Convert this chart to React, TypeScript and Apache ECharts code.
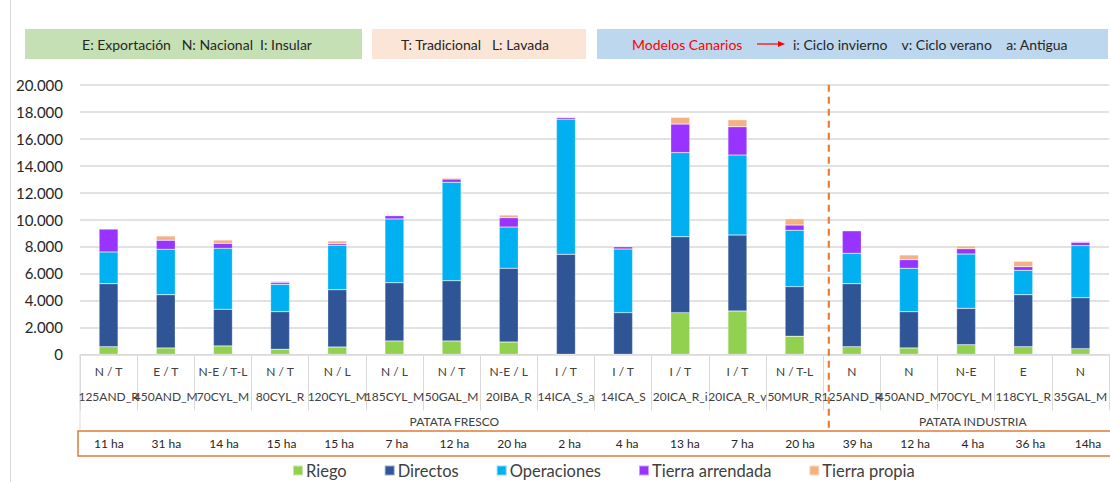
import React, { useEffect, useRef } from "react";
import * as echarts from "echarts";

// ---- data ----
const categories = ["125AND_R", "450AND_M", "70CYL_M", "80CYL_R", "120CYL_M", "185CYL_M", "50GAL_M", "20IBA_R", "14ICA_S_a", "14ICA_S", "20ICA_R_i", "20ICA_R_v", "50MUR_R", "125AND_R", "450AND_M", "70CYL_M", "118CYL_R", "35GAL_M"];
const markets = ["N / T", "E / T", "N-E / T-L", "N / T", "N / L", "N / L", "N / T", "N-E / L", "I / T", "I / T", "I / T", "I / T", "N / T-L", "N", "N", "N-E", "E", "N"];
const hectares = ["11 ha", "31 ha", "14 ha", "15 ha", "15 ha", "7 ha", "12 ha", "20 ha", "2 ha", "4 ha", "13 ha", "7 ha", "20 ha", "39 ha", "12 ha", "4 ha", "36 ha", "14ha"];
const groupNames = ["PATATA FRESCO", "PATATA INDUSTRIA"];
const groupCounts = [13, 5];

const riego = [560, 470, 620, 370, 540, 990, 990, 910, 0, 0, 3090, 3210, 1340, 560, 470, 710, 560, 420];
const directos = [4680, 3950, 2720, 2790, 4250, 4320, 4470, 5470, 7420, 3090, 5630, 5640, 3680, 4680, 2690, 2700, 3860, 3780];
const operaciones = [2350, 3370, 4520, 2030, 3300, 4730, 7300, 3060, 10010, 4720, 6240, 5930, 4180, 2250, 3220, 4030, 1810, 3860];
const arrendada = [1710, 670, 370, 150, 120, 240, 240, 690, 120, 170, 2120, 2100, 390, 1680, 640, 390, 270, 250];
const propia = [0, 320, 250, 80, 200, 50, 80, 200, 80, 50, 500, 520, 470, 0, 350, 200, 400, 70];

const seriesNames = ["Riego", "Directos", "Operaciones", "Tierra arrendada", "Tierra propia"];
const seriesData = [riego, directos, operaciones, arrendada, propia];
const seriesColors = ["#92D050", "#2F5597", "#00B0F0", "#9933FF", "#F4B183"];

const yTicks = { min: 0, max: 20000, interval: 2000 };

// ---- layout ----
const W = 1110;
const H = 482;
const GRID_LEFT = 80;
const GRID_TOP = 84.7;
const CAT_W = 57.6;
const GRID_W = CAT_W * categories.length;
const GRID_H = 269.6;
const AXIS_Y = GRID_TOP + GRID_H;
const FONT = "Lato, 'Noto Sans', sans-serif";
const TEXT_COLOR = "#404040";

export default function App() {
  const ref = useRef<HTMLDivElement>(null);

  useEffect(() => {
    if (!ref.current) return;
    const chart = echarts.init(ref.current, null, { renderer: "svg" });

    const graphics: any[] = [];
    // left frame line
    graphics.push({ type: "line", shape: { x1: 10.5, y1: 0, x2: 10.5, y2: H }, style: { stroke: "#D9D9D9", lineWidth: 1 } });

    // top legend boxes
    const boxY = 29;
    const boxH = 30;
    const midY = boxY + boxH / 2;
    graphics.push({ type: "rect", shape: { x: 25, y: boxY, width: 337, height: boxH }, style: { fill: "#C5E0B4" } });
    graphics.push({ type: "text", x: 197, y: midY, style: { text: "E: Exportación   N: Nacional  I: Insular", textAlign: "center", textVerticalAlign: "middle", fill: "#262626", font: `14px ${FONT}` } });
    graphics.push({ type: "rect", shape: { x: 372, y: boxY, width: 214, height: boxH }, style: { fill: "#FBE5D6" } });
    graphics.push({ type: "text", x: 475, y: midY, style: { text: "T: Tradicional   L: Lavada", textAlign: "center", textVerticalAlign: "middle", fill: "#262626", font: `14px ${FONT}` } });
    graphics.push({ type: "rect", shape: { x: 597, y: boxY, width: 511, height: boxH }, style: { fill: "#BDD7EE" } });
    graphics.push({ type: "text", x: 632, y: midY, style: { text: "Modelos Canarios", textAlign: "left", textVerticalAlign: "middle", fill: "#FF0000", font: `14px ${FONT}` } });
    graphics.push({ type: "line", shape: { x1: 757, y1: midY, x2: 779, y2: midY }, style: { stroke: "#FF0000", lineWidth: 1.2 } });
    graphics.push({ type: "polygon", shape: { points: [[778, midY - 3], [785, midY], [778, midY + 3]] }, style: { fill: "#FF0000" } });
    graphics.push({ type: "text", x: 793, y: midY, style: { text: "i: Ciclo invierno    v: Ciclo verano    a: Antigua", textAlign: "left", textVerticalAlign: "middle", fill: "#262626", font: `14px ${FONT}` } });

    // group labels and separators
    let start = 0;
    groupNames.forEach((g, gi) => {
      const cnt = groupCounts[gi];
      const cx = GRID_LEFT + (start + cnt / 2) * CAT_W;
      graphics.push({ type: "text", x: cx, y: 421, style: { text: g, textAlign: "center", textVerticalAlign: "middle", fill: TEXT_COLOR, font: `12px ${FONT}` } });
      start += cnt;
    });
    graphics.push({ type: "line", shape: { x1: GRID_LEFT, y1: AXIS_Y, x2: GRID_LEFT, y2: 431 }, style: { stroke: "#D9D9D9", lineWidth: 1 } });
    const dashX = GRID_LEFT + groupCounts[0] * CAT_W;
    graphics.push({ type: "line", z: 100, shape: { x1: dashX, y1: GRID_TOP, x2: dashX, y2: 431 }, style: { stroke: "#ED7D31", lineWidth: 2.2, lineDash: [7, 5] } });

    // hectare row
    graphics.push({ type: "rect", shape: { x: 78, y: 431, width: W, height: 25 }, style: { fill: "none", stroke: "#E07B39", lineWidth: 1.5 } });
    hectares.forEach((h, i) => {
      graphics.push({ type: "text", x: GRID_LEFT + (i + 0.5) * CAT_W, y: 443.5, style: { text: h, textAlign: "center", textVerticalAlign: "middle", fill: "#262626", font: `12px ${FONT}` } });
    });

    chart.setOption({
      animation: false,
      grid: { left: GRID_LEFT, top: GRID_TOP, width: GRID_W, height: GRID_H, containLabel: false },
      legend: {
        data: seriesNames,
        left: 292,
        top: 462,
        padding: 0,
        itemWidth: 10,
        itemHeight: 10,
        itemGap: 37,
        icon: "rect",
        textStyle: { fontFamily: FONT, fontSize: 16.5, color: TEXT_COLOR, padding: [0, 0, 0, -2] },
      },
      xAxis: {
        type: "category",
        data: categories,
        axisLine: { show: true, lineStyle: { color: "#D9D9D9", width: 1 } },
        axisTick: { show: true, interval: 0, length: 56, lineStyle: { color: "#D9D9D9" } },
        axisLabel: {
          interval: 0,
          margin: 5,
          fontFamily: FONT,
          color: TEXT_COLOR,
          formatter: (_v: string, i: number) => `{a|${markets[i]}}\n{b|${categories[i]}}`,
          rich: {
            a: { fontFamily: FONT, fontSize: 12, color: TEXT_COLOR, lineHeight: 25 },
            b: { fontFamily: FONT, fontSize: 12, color: TEXT_COLOR, lineHeight: 25 },
          },
        },
      },
      yAxis: {
        type: "value",
        min: yTicks.min,
        max: yTicks.max,
        interval: yTicks.interval,
        axisLine: { show: false },
        axisTick: { show: false },
        splitLine: { show: true, lineStyle: { color: "#D9D9D9", width: 1.5 } },
        axisLabel: {
          margin: 17,
          fontFamily: FONT,
          fontSize: 15,
          color: "#262626",
          formatter: (v: number) => (v === 0 ? "0" : (v / 1000).toFixed(3)),
        },
      },
      series: seriesNames.map((name, si) => ({
        name,
        type: "bar",
        stack: "total",
        barWidth: 19,
        data: seriesData[si],
        itemStyle: { color: seriesColors[si], borderColor: "rgba(255,255,255,0.5)", borderWidth: 0.5 },
      })),
      graphic: graphics,
    });

    return () => chart.dispose();
  }, []);

  return <div ref={ref} style={{ position: "absolute", left: 0, top: 0, width: W, height: H }} />;
}
